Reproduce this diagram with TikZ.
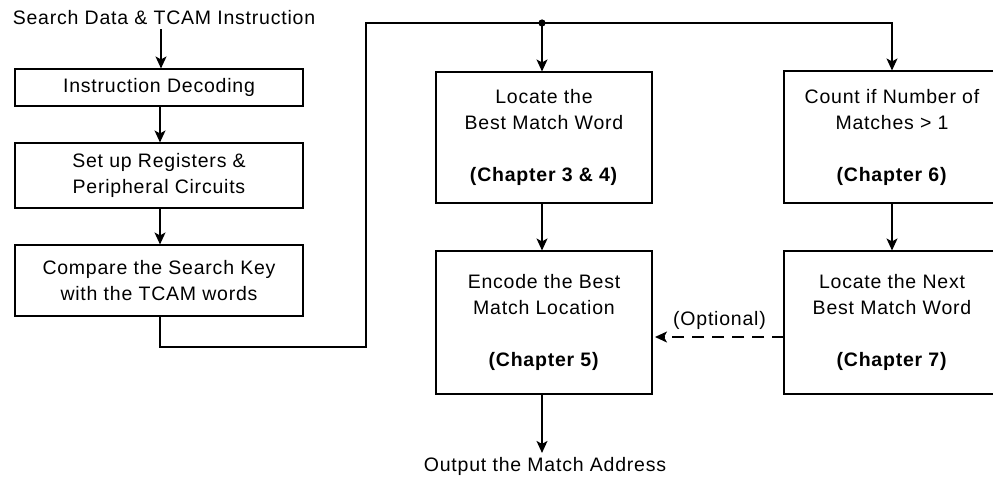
\documentclass[tikz,border=0pt]{standalone}
\usepackage{fontspec}
\setmainfont{Liberation Sans}[LetterSpace=4]
\usetikzlibrary{arrows.meta}
\begin{document}
\begin{tikzpicture}[x=1pt,y=-1pt,
  font=\fontsize{19.5}{26}\selectfont,
  line width=1.3pt,
  proc/.style={draw, line width=1.1pt, inner sep=0pt, align=center, anchor=center},
  wide/.style={proc, minimum width=288pt},
  tall/.style={proc, minimum width=216pt},
  flow/.style={-{Stealth[length=12pt,width=11pt,inset=3pt]}},
  opt/.style={flow, dash pattern=on 12pt off 8pt}]
\useasboundingbox (0,0) rectangle (993,495);
\clip (0,0) rectangle (993,495);

% left column
\node (title) at (164,18) {Search Data \& TCAM Instruction};
\node[wide, minimum height=37pt] (decode) at (159,87.5) {Instruction Decoding};
\node[wide, minimum height=65pt] (setup) at (159,175.5) {Set up Registers \&\\Peripheral Circuits};
\node[wide, minimum height=71pt] (compare) at (159,280.5) {Compare the Search Key\\with the TCAM words};

% middle and right columns
\node[tall, minimum height=131pt] (locate) at (544,137.5) {Locate the\\Best Match Word\\[26pt]\textbf{(Chapter 3 \& 4)}};
\node[tall, minimum height=143pt] (encode) at (544,322.5) {Encode the Best\\Match Location\\[26pt]\textbf{(Chapter 5)}};
\node[tall, minimum height=132pt] (count) at (892,137) {Count if Number of\\Matches > 1\\[26pt]\textbf{(Chapter 6)}};
\node[tall, minimum height=143pt] (next) at (892,322.5) {Locate the Next\\Best Match Word\\[26pt]\textbf{(Chapter 7)}};
\node (out) at (545,466) {Output the Match Address};

% routing points of the bus
\coordinate (low) at (366,347);
\coordinate (high) at (366,23);
\coordinate (tap) at (542,23);
\coordinate (dashstart) at (784,337);
\coordinate (dashend) at (655,337);

\draw[flow] (title.south -| 161,0) -- (decode.north -| 161,0);
\draw[flow] (decode.south -| 160,0) -- (setup.north -| 160,0);
\draw[flow] (setup.south -| 160,0) -- (compare.north -| 160,0);
\draw[flow] (compare.south -| 160,0) |- (low) -- (high) -| (count.north -| 892,0);
\fill (tap) circle (3.6pt);
\draw[flow] (tap) -- (locate.north -| tap);
\draw[flow] (locate.south -| tap) -- (encode.north -| tap);
\draw[flow] (count.south) -- (next.north);
\draw[flow] (encode.south -| tap) -- (out.north -| tap);
\draw[opt] (dashstart) -- node[above=3pt] {(Optional)} (dashend);
\end{tikzpicture}
\end{document}
